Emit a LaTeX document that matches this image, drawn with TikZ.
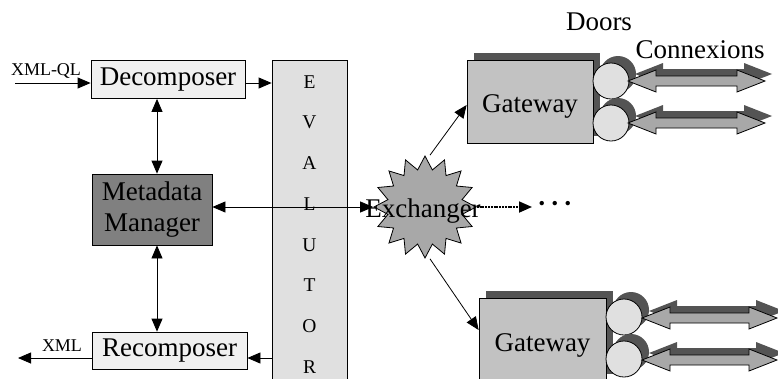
\documentclass[tikz,border=0pt]{standalone}
\usepackage{fontspec}
\setmainfont{Liberation Serif}
\usetikzlibrary{shapes,shadows,arrows.meta,calc}
\definecolor{lightbox}{gray}{0.94}
\definecolor{evalgray}{gray}{0.88}
\definecolor{metagray}{gray}{0.5}
\definecolor{exchgray}{gray}{0.66}
\definecolor{gwgray}{gray}{0.76}
\definecolor{doorgray}{gray}{0.88}
\definecolor{fatgray}{gray}{0.66}
\definecolor{shadowgray}{gray}{0.33}

\begin{document}
\begin{tikzpicture}[x=1pt,y=-1pt,line width=0.8pt,
  font=\fontsize{27}{31}\selectfont,
  box/.style={draw, inner sep=0pt, align=center},
  arr/.style={-{Triangle[length=13pt,width=11pt]}},
  dblarr/.style={{Triangle[length=13pt,width=11pt]}-{Triangle[length=13pt,width=11pt]}},
  shade/.style={drop shadow={shadow xshift=7pt, shadow yshift=7pt, fill=shadowgray, opacity=1}},
  small/.style={font=\fontsize{18}{20}\selectfont}]
\useasboundingbox (0,0) rectangle (778,378);
\clip (0,0) rectangle (778,378);

% left column
\node[box, fill=lightbox, minimum width=154, minimum height=38] (decomp) at (168,79.5) {Decomposer};
\node[box, fill=metagray, minimum width=120, minimum height=71] (meta) at (152,209.5) {Metadata\\Manager};
\node[box, fill=lightbox, minimum width=155, minimum height=37] (recomp) at (169.5,350.5) {Recomposer};
\node[box, fill=evalgray, minimum width=75, minimum height=340] (evalr) at (309.5,230) {};
\foreach \ch [count=\i] in {E,V,A,L,U,T,O,R}
  \node[font=\fontsize{19.5}{20}\selectfont, inner sep=0pt] (ev\i) at (309.5,41.3+40.7*\i) {\ch};

% inputs / outputs
\coordinate (qlin) at (15,83);
\coordinate (xmlout) at (18,358);
\draw[arr] (qlin) -- (qlin -| decomp.west);
\node[small] (ql) at (46,71) {XML-QL};
\draw[arr] ([yshift=-7.5pt]recomp.west) -- (xmlout);
\node[small] (xml) at (62,346) {XML};

\draw[arr] ([yshift=-3.5pt]decomp.east) -- ([yshift=-3.5pt]decomp.east -| evalr.west);
\draw[arr] ([yshift=-7.5pt]recomp.east -| evalr.west) -- ([yshift=-7.5pt]recomp.east);
\draw[dblarr] ([xshift=5pt]meta.north) -- ([xshift=5pt]meta.north |- decomp.south);
\draw[dblarr] ([xshift=5pt]meta.south) -- ([xshift=5pt]meta.south |- recomp.north);

% exchanger
\node[star, star points=16, star point ratio=1.35, minimum size=102, inner sep=0pt,
  draw, fill=exchgray] (exch) at (425,207) {};
\draw[dblarr] ([yshift=2.5pt]meta.east) -- ([yshift=2.5pt]meta.east -| exch.west);
\node (exchtxt) at (423,211) {Exchanger};
\node[inner sep=0pt, anchor=west] (more) at (537,207) {\textbf{·\kern4pt·\kern4pt·}};
\draw[-{Triangle[length=13pt,width=11pt]}, line width=1.8pt, dash pattern=on 2pt off 0.8pt]
  (exch.east) -- ([xshift=-5pt]more.west);

% gateways
\node[box, shade, fill=gwgray, minimum width=126, minimum height=83] (gw1) at (530,101.5) {};
\node (gw1txt) at (530,106) {Gateway};
\node[box, shade, fill=gwgray, minimum width=127, minimum height=83] (gw2) at (542.5,339.5) {};
\node (gw2txt) at (542.5,345) {Gateway};
\draw[arr] ([xshift=5pt]exch.north) -- ([yshift=-3.5pt]gw1.west);
\draw[arr] ([xshift=5pt]exch.south) -- ([yshift=9.5pt]gw2.west);

% doors and connexions
\foreach \cx/\cy [count=\i] in {611/81, 611/123, 624/317, 624/359}
  \node[circle, draw, shade, fill=doorgray, minimum size=36, inner sep=0pt] (door\i) at (\cx,\cy) {};
\foreach \a/\b/\y in {628/765/81, 628/765/123, 642/777/318, 642/777/360}
  \draw[shade, fill=fatgray] (\a,\y) -- (\a+28,\y-11) -- (\a+28,\y-5) -- (\b-28,\y-5)
    -- (\b-28,\y-11) -- (\b,\y) -- (\b-28,\y+11) -- (\b-28,\y+5) -- (\a+28,\y+5)
    -- (\a+28,\y+11) -- cycle;
\node (doors) at (599,22) {Doors};
\node (conn) at (700,50) {Connexions};
\end{tikzpicture}
\end{document}
